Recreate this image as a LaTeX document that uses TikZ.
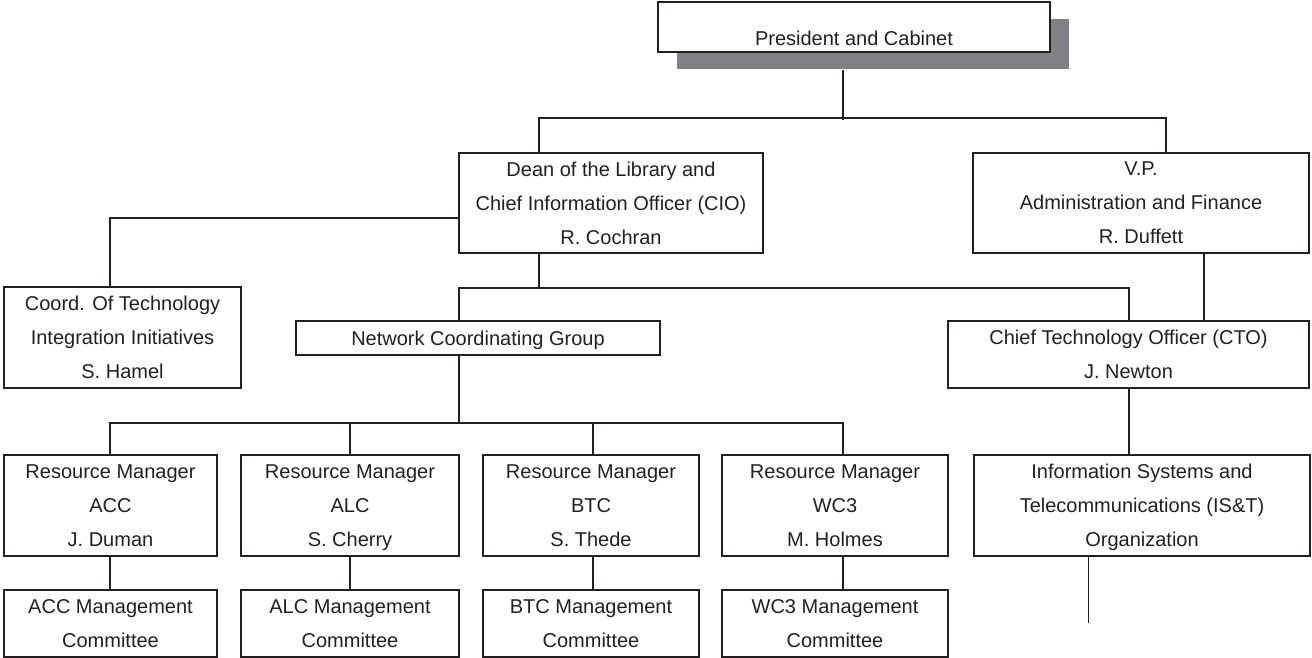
\documentclass[tikz,border=0pt]{standalone}
\usepackage{fontspec}
\setmainfont{Liberation Sans}
\usetikzlibrary{shapes,shadows,calc}
\definecolor{ink}{RGB}{35,31,32}
\definecolor{shadowgray}{RGB}{128,130,133}

\begin{document}
\begin{tikzpicture}[x=0.5pt,y=-0.5pt,ink]
%\draw[gray,very thin] (0,0) grid (1312,658);
\useasboundingbox (0,0) rectangle (1312,658);
\tikzstyle{box} = [draw, shape=rectangle, line width=1pt, align=center, inner sep=2pt, text depth=0pt, font=\fontsize{10}{17}\selectfont, text=ink]
\tikzstyle{unit} = [box, minimum height=50.5pt]
\tikzstyle{comm} = [box, minimum height=33.5pt]
%Creating Blocks
\node at (854,27) [box, fill=white, minimum width=196pt, minimum height=25pt, text height=19pt, drop shadow={shadow xshift=9.5pt, shadow yshift=-8.5pt, fill=shadowgray, opacity=1}] (pres) {President and Cabinet};
\node at (611,203) [box, minimum width=152pt, minimum height=50pt] (dean) {Dean of the Library and\\Chief Information Officer (CIO)\\R. Cochran};
\node at (1141,203) [box, minimum width=168pt, minimum height=50pt] (vp) {V.P.\\Administration and Finance\\R. Duffett};
\node at (122.5,337.5) [unit, minimum width=118.5pt] (coord) {Coord. Of Technology\\Integration Initiatives\\S. Hamel};
\node at (478,338) [box, minimum width=182pt, minimum height=17pt] (ncg) {Network Coordinating Group};
\node at (1128.5,354.5) [comm, minimum width=180.5pt] (cto) {Chief Technology Officer (CTO)\\J. Newton};
\node at (1142,505.5) [unit, minimum width=168pt] (ist) {Information Systems and\\Telecommunications (IS\&T)\\Organization};
%Resource managers and committees
\node at (110.5,505.5) [unit, minimum width=106.5pt] (rmacc) {Resource Manager\\ACC\\J. Duman};
\node at (350,505.5) [unit, minimum width=109pt] (rmalc) {Resource Manager\\ALC\\S. Cherry};
\node at (591,505.5) [unit, minimum width=108pt] (rmbtc) {Resource Manager\\BTC\\S. Thede};
\node at (835,505.5) [unit, minimum width=113pt] (rmwc) {Resource Manager\\WC3\\M. Holmes};
\node at (110.5,623.5) [comm, minimum width=106.5pt] (cmacc) {ACC Management\\Committee};
\node at (350,623.5) [comm, minimum width=109pt] (cmalc) {ALC Management\\Committee};
\node at (591,623.5) [comm, minimum width=108pt] (cmbtc) {BTC Management\\Committee};
\node at (835,623.5) [comm, minimum width=113pt] (cmwc) {WC3 Management\\Committee};
\begin{scope}[line width=1pt]
\draw ([xshift=-5.5pt,yshift=-8.5pt]pres.south) -- ++(0,50);
\draw ([xshift=-36pt]dean.north) -- ++(0,-34) -| ([xshift=12.5pt]vp.north);
\draw ([yshift=-7.5pt]dean.west) -| ([xshift=-6.25pt]coord.north);
\draw ([xshift=-36pt]dean.south) -- ++(0,34) coordinate (nb);
\draw ([xshift=-9.5pt]ncg.north) |- (nb) -| (cto.north);
\draw ([xshift=31.5pt]vp.south) -- ([xshift=31.5pt]vp.south |- cto.north);
\draw (cto.south) -- (cto.south |- ist.north);
\draw ([xshift=-9.5pt]ncg.south) -- ++(0,67) coordinate (rb);
\draw (rb) -| ([xshift=-0.25pt]rmacc.north);
\draw (rb) -| (rmalc.north);
\draw (rb) -| ([xshift=1pt]rmbtc.north);
\draw (rb) -| ([xshift=4pt]rmwc.north);
\draw ([xshift=-0.25pt]rmacc.south) -- ([xshift=-0.25pt]cmacc.north);
\draw (rmalc.south) -- (cmalc.north);
\draw ([xshift=1pt]rmbtc.south) -- ([xshift=1pt]cmbtc.north);
\draw ([xshift=4pt]rmwc.south) -- ([xshift=4pt]cmwc.north);
\end{scope}
\draw[line width=0.5pt] ([xshift=-27pt]ist.south) -- ++(0,66);

\end{tikzpicture}
\end{document}
